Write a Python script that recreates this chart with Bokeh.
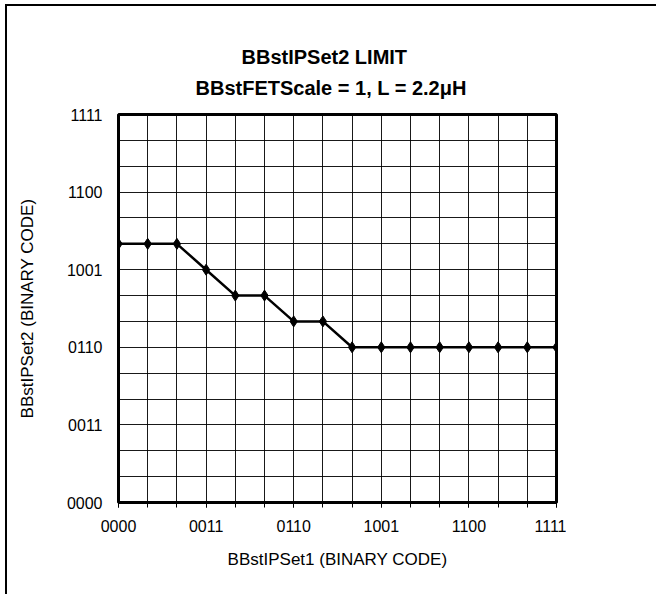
from bokeh.plotting import figure
from bokeh.models import FixedTicker, ColumnDataSource, Title
from bokeh.embed import file_html
from bokeh.resources import INLINE

# data
bbst_ipset1 = [0, 1, 2, 3, 4, 5, 6, 7, 8, 9, 10, 11, 12, 13, 14, 15]
bbst_ipset2 = [10, 10, 10, 9, 8, 8, 7, 7, 6, 6, 6, 6, 6, 6, 6, 6]
tick_values = [0, 3, 6, 9, 12, 15]
tick_labels = ["0000", "0011", "0110", "1001", "1100", "1111"]
grid_values = list(range(16))
title_lines = ["BBstIPSet2 LIMIT", "BBstFETScale = 1, L = 2.2\u03bcH"]

FONT = "Liberation Sans"

p = figure(
    width=651, height=590,
    frame_width=438, frame_height=388,
    x_range=(0, 15), y_range=(0, 15),
    output_backend="svg", toolbar_location=None,
    min_border_left=111, min_border_top=108,
    min_border_right=10, min_border_bottom=10,
)
p.styles = {"margin-left": "5px", "margin-top": "4px",
            "width": "651px", "height": "590px",
            "border-left": "2px solid black", "border-top": "2px solid black"}

t2 = Title(text=title_lines[1], align="left", offset=77, standoff=32,
           text_font=FONT, text_font_size="20px", text_font_style="bold",
           text_color="black")
t1 = Title(text=title_lines[0], align="left", offset=123, standoff=-18,
           text_font=FONT, text_font_size="20px", text_font_style="bold",
           text_color="black")
p.add_layout(t2, "above")
p.add_layout(t1, "above")

p.background_fill_color = "white"
p.border_fill_color = "white"
p.outline_line_color = "black"
p.outline_line_width = 3

# grids
p.xgrid.ticker = FixedTicker(ticks=grid_values)
p.ygrid.ticker = FixedTicker(ticks=grid_values)
for g in (p.xgrid, p.ygrid):
    g.grid_line_color = "black"
    g.grid_line_width = 1
    g.grid_line_alpha = 0.9

# x axis
xa = p.xaxis[0]
xa.ticker = FixedTicker(ticks=tick_values, minor_ticks=grid_values)
xa.major_label_overrides = {v: l for v, l in zip(tick_values, tick_labels)}
xa.axis_line_color = None
xa.major_tick_in = 0
xa.major_tick_out = 5
xa.minor_tick_in = 0
xa.minor_tick_out = 5
xa.major_tick_line_color = "black"
xa.minor_tick_line_color = "black"
xa.major_label_standoff = 12
xa.axis_label = "BBstIPSet1 (BINARY CODE)"
xa.axis_label_standoff = 15

# y axis
ya = p.yaxis[0]
ya.ticker = FixedTicker(ticks=tick_values, minor_ticks=[])
ya.major_label_overrides = {v: l for v, l in zip(tick_values, tick_labels)}
ya.axis_line_color = None
ya.major_tick_in = 0
ya.major_tick_out = 0
ya.minor_tick_in = 0
ya.minor_tick_out = 0
ya.major_label_standoff = 16
ya.axis_label = "BBstIPSet2 (BINARY CODE)"
ya.axis_label_standoff = 27

for ax in (xa, ya):
    ax.major_label_text_font = FONT
    ax.major_label_text_font_size = "16px"
    ax.major_label_text_color = "black"
    ax.axis_label_text_font = FONT
    ax.axis_label_text_font_size = "17px"
    ax.axis_label_text_font_style = "normal"
    ax.axis_label_text_color = "black"

src = ColumnDataSource(dict(x=bbst_ipset1, y=bbst_ipset2))
p.line("x", "y", source=src, line_color="black", line_width=2.5)
p.scatter("x", "y", source=src, marker="diamond", size=11,
          fill_color="black", line_color="black")

open("out.html", "w").write(file_html(p, INLINE))
